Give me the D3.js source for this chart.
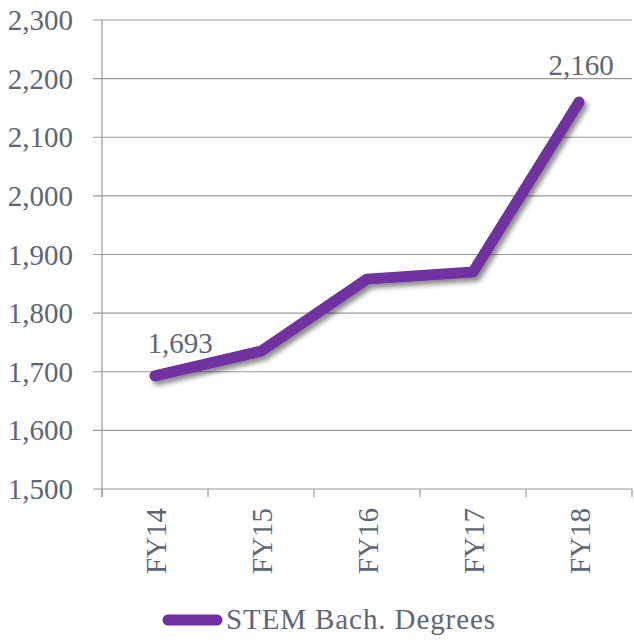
<!DOCTYPE html>
<html><head><meta charset="utf-8">
<script src="https://cdn.jsdelivr.net/npm/d3@7"></script>
<style>
body{margin:0;background:#fff;}
text{font-family:"Liberation Serif","Times New Roman","DejaVu Serif",serif;fill:#5d6677;}
</style></head>
<body><svg id="c" width="634" height="640"></svg>
<script>
const categories = ["FY14","FY15","FY16","FY17","FY18"];
const values = [1693,1735,1858,1870,2160];
const yTicks = [1500,1600,1700,1800,1900,2000,2100,2200,2300];
const seriesName = "STEM Bach. Degrees";
const labelIdx = [0,4];

const svg = d3.select("#c");
const L=102, R=632, T=20, B=489;
const FS=29;
const x = d3.scaleBand().domain(categories).range([L,R]);
const y = d3.scaleLinear().domain([1500,2300]).range([B,T]);
const fmt = d3.format(",");
const cx = d=>x(d)+x.bandwidth()/2;

const defs = svg.append("defs");
const f = defs.append("filter").attr("id","sh").attr("x","-20%").attr("y","-20%").attr("width","140%").attr("height","140%");
f.append("feDropShadow").attr("dx",3).attr("dy",4).attr("stdDeviation",2.5).attr("flood-color","#000").attr("flood-opacity",0.45);

// grid
svg.append("g").selectAll("line").data(yTicks).join("line")
  .attr("x1",L-9).attr("x2",R).attr("y1",d=>y(d)).attr("y2",d=>y(d))
  .attr("stroke","#9a9a9a").attr("stroke-width",1.2);
svg.append("line").attr("x1",L).attr("x2",L).attr("y1",T).attr("y2",B+8).attr("stroke","#9a9a9a").attr("stroke-width",1.2);
// x ticks
svg.append("g").selectAll("line").data(d3.range(categories.length+1)).join("line")
  .attr("x1",i=>L+i*x.step()).attr("x2",i=>L+i*x.step())
  .attr("y1",B).attr("y2",B+8).attr("stroke","#9a9a9a").attr("stroke-width",1.2);

// y labels
svg.append("g").selectAll("text").data(yTicks).join("text")
  .attr("x",73).attr("y",d=>y(d)+10).attr("text-anchor","end")
  .attr("font-size",FS).text(d=>fmt(d));

// x labels
svg.append("g").selectAll("text").data(categories).join("text")
  .attr("transform",d=>`translate(${cx(d)+11},508) rotate(-90)`)
  .attr("text-anchor","end").attr("font-size",FS).text(d=>d);

// line
const line = d3.line().x((d,i)=>cx(categories[i])).y(d=>y(d));
svg.append("path").datum(values).attr("d",line).attr("fill","none")
  .attr("stroke","#7030a0").attr("stroke-width",11).attr("stroke-linecap","round")
  .attr("stroke-linejoin","round").attr("filter","url(#sh)");

// data labels (first placed up-right, last placed above)
svg.append("g").selectAll("text").data(labelIdx).join("text")
  .attr("x",i=>cx(categories[i])+(i===0?25:2)).attr("y",i=>y(values[i])-(i===0?23:27))
  .attr("text-anchor","middle").attr("font-size",FS).text(i=>fmt(values[i]));

// legend
svg.append("line").attr("x1",168).attr("x2",217).attr("y1",620).attr("y2",620)
  .attr("stroke","#7030a0").attr("stroke-width",11).attr("stroke-linecap","round");
svg.append("text").attr("x",226).attr("y",629).attr("font-size",FS).attr("letter-spacing",0.9).text(seriesName);
</script></body></html>
